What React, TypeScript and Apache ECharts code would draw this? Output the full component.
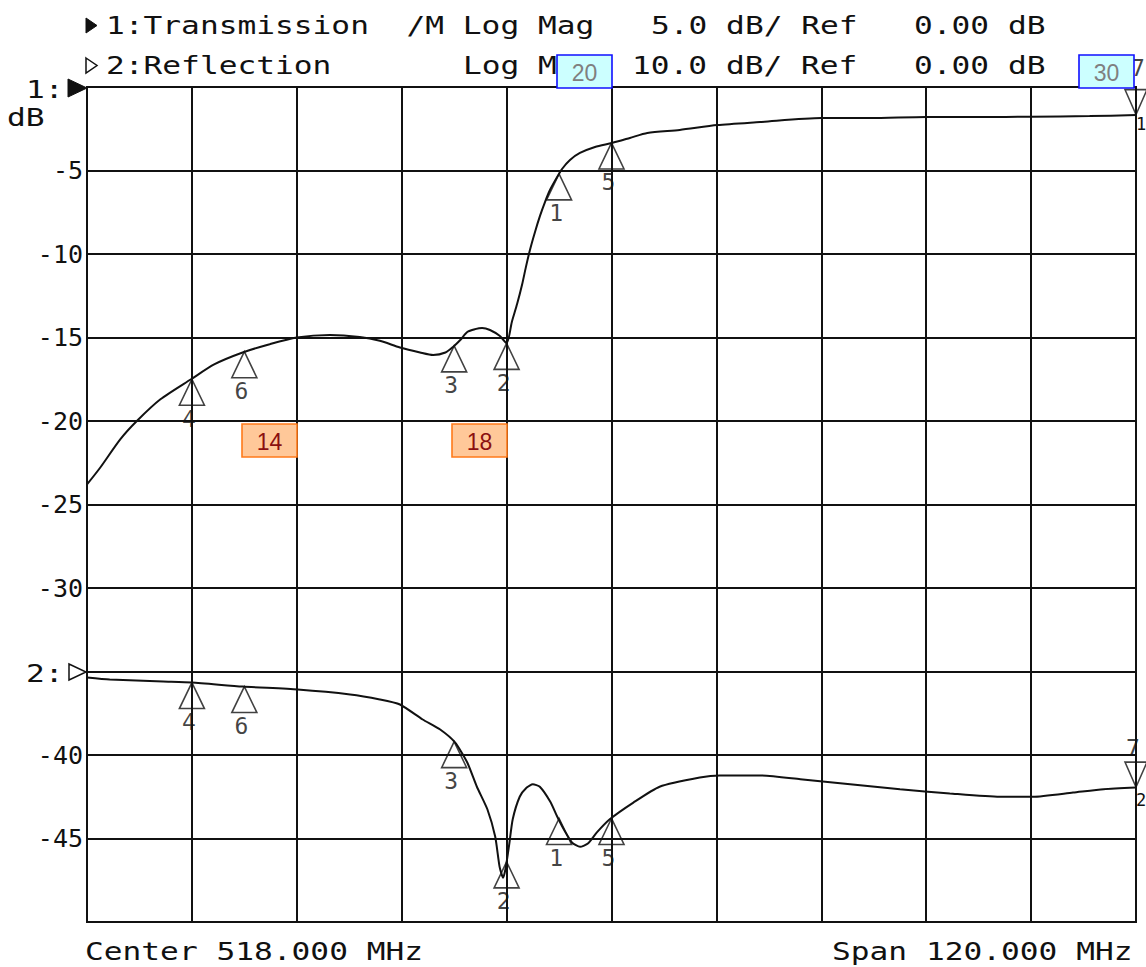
import React, { useEffect, useRef } from "react";
import * as echarts from "echarts";

// ---- instrument setup ----
const CENTER_MHZ = 518;
const SPAN_MHZ = 120;

// ---- channel 1: Transmission (5 dB/div, ref 0 dB at top) ----
const trans_freq = [
  458.0, 459.5, 461.8, 463.7, 466.4, 469.9, 472.6, 475.8, 478.9, 482.0,
  485.8, 489.2, 491.5, 493.8, 496.1, 497.6, 499.0, 499.9, 500.7, 501.5,
  502.4, 503.2, 504.1, 505.2, 506.0, 506.6, 507.2, 507.76, 508.2, 508.67,
  509.25, 509.82, 510.39, 510.96, 511.65, 512.34, 513.25, 514.39, 516.11, 518.06,
  520.1, 522.1, 525.8, 530.1, 535.0, 542.0, 547.6, 554.0, 560.2, 566.0,
  572.7, 578.0,
];
const trans_db = [
  -23.8, -22.8, -21.1, -20.0, -18.7, -17.5, -16.6, -15.9, -15.4, -15.0,
  -14.85, -14.97, -15.2, -15.6, -15.9, -16.05, -15.9, -15.55, -15.15, -14.67,
  -14.5, -14.43, -14.55, -14.9, -15.33, -14.07, -13.0, -11.86, -10.8, -9.76,
  -8.68, -7.72, -6.89, -6.17, -5.51, -4.91, -4.37, -3.95, -3.59, -3.35,
  -3.05, -2.75, -2.57, -2.28, -2.1, -1.86, -1.86, -1.8, -1.8, -1.78,
  -1.74, -1.68,
];

// ---- channel 2: Reflection (10 dB/div, ref 0 dB at 7th division) ----
const refl_freq = [
  458.0, 460.6, 466.7, 470.0, 475.8, 482.1, 488.1, 491.5, 493.8, 496.4,
  498.4, 500.1, 501.5, 502.6, 503.8, 504.7, 505.2, 505.6, 505.9, 506.3,
  506.7, 507.5, 508.3, 509.0, 509.8, 511.0, 511.8, 512.7, 513.5, 514.4,
  515.3, 516.3, 517.8, 520.5, 523.5, 528.1, 530.4, 535.0, 539.6, 545.3,
  551.0, 556.7, 562.4, 566.2, 570.8, 574.3, 578.0,
];
const refl_db = [
  -0.72, -0.96, -1.2, -1.32, -1.8, -2.16, -2.75, -3.35, -3.95, -5.75,
  -6.95, -8.5, -10.9, -13.8, -16.5, -19.8, -23.4, -24.7, -23.5, -20.7,
  -17.7, -15.0, -13.9, -13.5, -13.8, -15.6, -17.4, -19.2, -20.5, -21.0,
  -20.6, -19.3, -17.7, -15.7, -13.8, -12.7, -12.45, -12.45, -12.9, -13.5,
  -14.1, -14.6, -15.0, -15.0, -14.5, -14.1, -13.9,
];

// ---- markers ----
const marker_ids = ["4", "6", "3", "2", "1", "5"];
const marker_freq = [470, 476, 500, 506, 512, 518];
const marker_trans_db = [-17.5, -15.85, -15.5, -15.35, -5.2, -3.35];
const marker_refl_db = [-1.32, -1.8, -8.4, -22.8, -17.6, -17.6];
const active_marker_id = "7";
const active_marker_freq = 578;
const active_trans_db = -1.68;
const active_refl_db = -13.9;

// ---- axis tick labels (channel 1 scale; -35 is replaced by the "2:" reference mark) ----
const ch1_tick_values = [-5, -10, -15, -20, -25, -30, -40, -45];
const ch1_tick_labels = ["-5", "-10", "-15", "-20", "-25", "-30", "-40", "-45"];

// ---- annotation boxes ----
const orange_boxes = [
  { label: "14", x: 242, y: 424 },
  { label: "18", x: 452, y: 424 },
];
const blue_boxes = [
  { label: "20", x: 557, y: 55 },
  { label: "30", x: 1079, y: 55 },
];

const MONO = "'DejaVu Sans Mono', 'Liberation Mono', monospace";
const SANS = "'Liberation Sans', Arial, sans-serif";
const INK = "#111";
const PITCH_SCALE = 1.3;

const monoText = (x: number, y: number, text: string, size = 24, scale = PITCH_SCALE) => ({
  type: "text",
  x,
  y,
  scaleX: scale,
  z: 50,
  style: {
    text,
    fontFamily: MONO,
    fontSize: size,
    fill: INK,
    textAlign: "left",
    textVerticalAlign: "middle",
    align: "left",
    verticalAlign: "middle",
  },
});

const boxGraphic = (
  b: { label: string; x: number; y: number },
  fill: string,
  stroke: string,
  textColor: string
) => [
  {
    type: "rect",
    z: 100,
    shape: { x: b.x, y: b.y, width: 55, height: 33 },
    style: { fill, stroke, lineWidth: 1.6 },
  },
  {
    type: "text",
    z: 101,
    x: b.x + 27.5,
    y: b.y + 18,
    style: {
      text: b.label,
      fontFamily: SANS,
      fontSize: 23,
      fill: textColor,
      textAlign: "center",
      textVerticalAlign: "middle",
      align: "center",
      verticalAlign: "middle",
    },
  },
];

const markerLabel = {
  show: true,
  position: "bottom",
  distance: 1,
  offset: [-3, 0],
  formatter: "{b}",
  fontFamily: MONO,
  fontSize: 23,
  color: INK,
};

const triStyle = { color: "rgba(0,0,0,0)", borderColor: INK, borderWidth: 1.6 };

export default function App() {
  const ref = useRef<HTMLDivElement>(null);

  useEffect(() => {
    const chart = echarts.init(ref.current!, null, { renderer: "svg" });

    const toX = (f: number) => f - CENTER_MHZ;

    const option: any = {
      animation: false,
      backgroundColor: "#fff",
      grid: {
        left: 87,
        top: 87,
        right: 10,
        bottom: 45,
        show: true,
        borderColor: INK,
        borderWidth: 2,
        backgroundColor: "transparent",
      },
      xAxis: {
        type: "value",
        min: -SPAN_MHZ / 2,
        max: SPAN_MHZ / 2,
        interval: SPAN_MHZ / 10,
        axisLabel: { show: false },
        axisTick: { show: false },
        axisLine: { show: false },
        splitLine: { show: true, lineStyle: { color: INK, width: 2 } },
      },
      yAxis: [
        {
          type: "value",
          min: -50,
          max: 0,
          interval: 5,
          axisLine: { show: false },
          axisTick: { show: false },
          splitLine: { show: true, lineStyle: { color: INK, width: 2 } },
          axisLabel: {
            show: true,
            fontFamily: MONO,
            fontSize: 25,
            color: INK,
            margin: 4,
            formatter: (v: number) => {
              const i = ch1_tick_values.indexOf(v);
              return i >= 0 ? ch1_tick_labels[i] : "";
            },
          },
        },
        {
          type: "value",
          min: -30,
          max: 70,
          interval: 10,
          show: false,
          splitLine: { show: false },
        },
      ],
      series: [
        {
          name: "Transmission",
          type: "line",
          yAxisIndex: 0,
          data: trans_freq.map((f, i) => [toX(f), trans_db[i]]),
          showSymbol: false,
          symbol: "none",
          smooth: 0.25,
          lineStyle: { color: INK, width: 2 },
          z: 5,
        },
        {
          name: "Reflection",
          type: "line",
          yAxisIndex: 1,
          data: refl_freq.map((f, i) => [toX(f), refl_db[i]]),
          showSymbol: false,
          symbol: "none",
          smooth: 0.2,
          lineStyle: { color: INK, width: 2 },
          z: 5,
        },
        {
          name: "Markers 1",
          type: "scatter",
          yAxisIndex: 0,
          symbol: "triangle",
          symbolSize: [25, 26],
          symbolOffset: [0, 13],
          itemStyle: triStyle,
          label: markerLabel,
          data: marker_freq.map((f, i) => ({
            name: marker_ids[i],
            value: [toX(f), marker_trans_db[i]],
          })),
          z: 6,
        },
        {
          name: "Markers 2",
          type: "scatter",
          yAxisIndex: 1,
          symbol: "triangle",
          symbolSize: [25, 26],
          symbolOffset: [0, 13],
          itemStyle: triStyle,
          label: markerLabel,
          data: marker_freq.map((f, i) => ({
            name: marker_ids[i],
            value: [toX(f), marker_refl_db[i]],
          })),
          z: 6,
        },
        {
          name: "Active marker 1",
          type: "scatter",
          yAxisIndex: 0,
          symbol: "path://M0,0L2,0L1,2Z",
          symbolSize: [22, 25],
          symbolOffset: [0, -13],
          itemStyle: triStyle,
          label: { ...markerLabel, position: "top", offset: [2, 0], distance: 9 },
          data: [{ name: active_marker_id, value: [toX(active_marker_freq), active_trans_db] }],
          z: 6,
        },
        {
          name: "Active marker 2",
          type: "scatter",
          yAxisIndex: 1,
          symbol: "path://M0,0L2,0L1,2Z",
          symbolSize: [22, 25],
          symbolOffset: [0, -13],
          itemStyle: triStyle,
          label: { ...markerLabel, position: "top", offset: [-3, 0], distance: 2 },
          data: [{ name: active_marker_id, value: [toX(active_marker_freq), active_refl_db] }],
          z: 6,
        },
      ],
      graphic: [
        // header row 1
        {
          type: "polygon",
          z: 50,
          shape: { points: [[86, 18], [97, 25.5], [86, 33]] },
          style: { fill: INK, stroke: INK, lineWidth: 1 },
        },
        monoText(106, 26, "1:Transmission  /M Log Mag"),
        monoText(651, 26, "5.0 dB/ Ref"),
        monoText(914, 26, "0.00 dB"),
        // header row 2
        {
          type: "polygon",
          z: 50,
          shape: { points: [[86, 58], [97, 65.5], [86, 73]] },
          style: { fill: "#fff", stroke: INK, lineWidth: 1.5 },
        },
        monoText(106, 66, "2:Reflection"),
        monoText(463, 66, "Log M"),
        monoText(632, 66, "10.0 dB/ Ref"),
        monoText(914, 66, "0.00 dB"),
        // left reference labels
        monoText(26, 90, "1:"),
        {
          type: "polygon",
          z: 50,
          shape: { points: [[68, 79], [87, 88], [68, 97]] },
          style: { fill: INK, stroke: INK, lineWidth: 1 },
        },
        monoText(7, 118, "dB"),
        monoText(26, 674, "2:"),
        {
          type: "polygon",
          z: 50,
          shape: { points: [[69, 664], [86, 672], [69, 680]] },
          style: { fill: "#fff", stroke: INK, lineWidth: 1.5 },
        },
        // right edge fragments
        monoText(1136, 124, "1", 17, 1),
        monoText(1136, 800, "2", 17, 1),
        // footer
        monoText(85, 952, "Center 518.000 MHz"),
        monoText(832, 952, "Span 120.000 MHz"),
        // annotation boxes
        ...orange_boxes.flatMap((b) => boxGraphic(b, "#FFC899", "#FF7A1A", "#8B1010")),
        ...blue_boxes.flatMap((b) => boxGraphic(b, "#CCFFFF", "#1010FF", "#808080")),
      ],
    };

    chart.setOption(option);
    return () => chart.dispose();
  }, []);

  return (
    <div
      ref={ref}
      style={{
        position: "absolute",
        left: 0,
        top: 0,
        width: 1146,
        height: 967,
        background: "#fff",
      }}
    />
  );
}
